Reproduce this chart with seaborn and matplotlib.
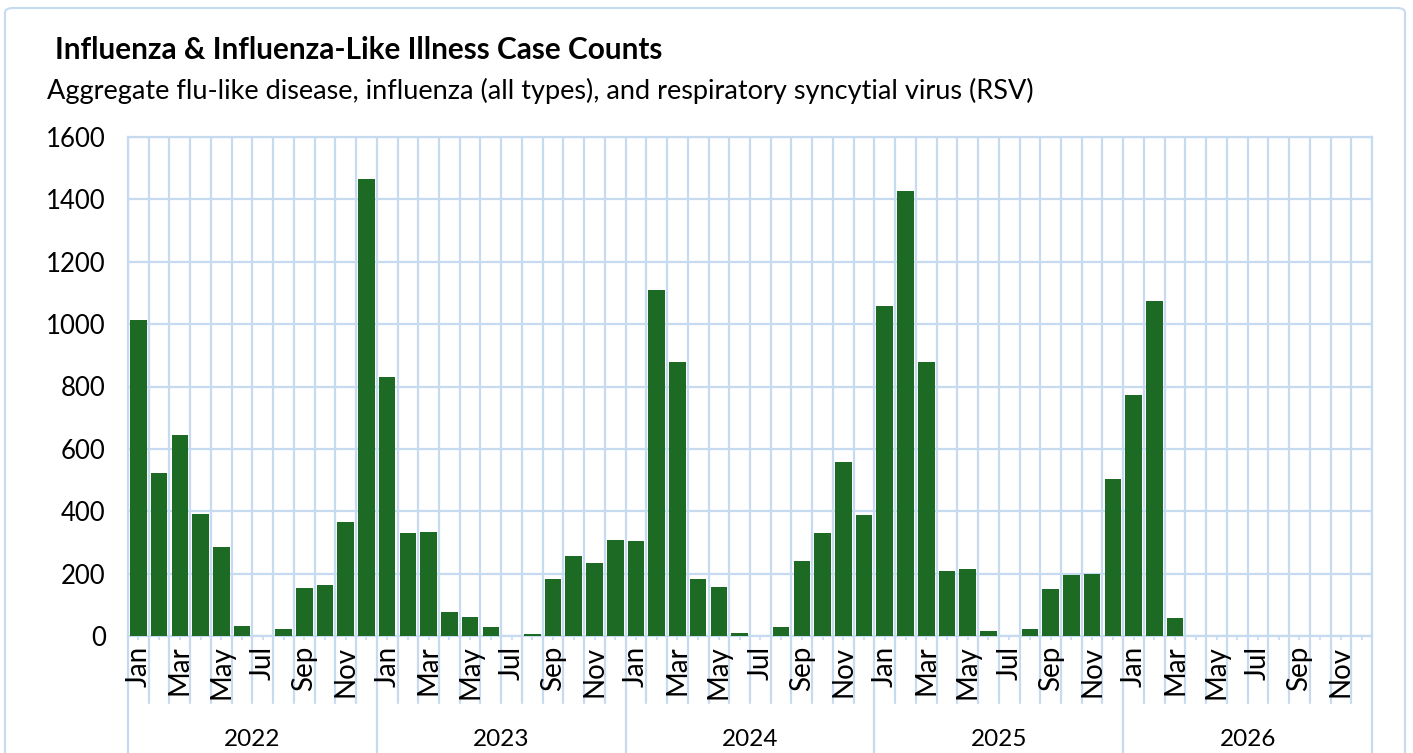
import numpy as np
import pandas as pd
import matplotlib
matplotlib.use("Agg")
import matplotlib.pyplot as plt
import matplotlib.transforms as mtransforms
from matplotlib.patches import FancyBboxPatch
import seaborn as sns

# ---------------- data ----------------
years = ["2022", "2023", "2024", "2025", "2026"]
months = ["Jan", "Feb", "Mar", "Apr", "May", "Jun",
          "Jul", "Aug", "Sep", "Oct", "Nov", "Dec"]
cases_2022 = [1012, 524, 646, 391, 284, 33, 0, 21, 154, 163, 367, 1465]
cases_2023 = [832, 329, 333, 76, 60, 30, 0, 5, 183, 258, 233, 308]
cases_2024 = [304, 1111, 878, 183, 158, 9, 0, 30, 242, 329, 557, 387]
cases_2025 = [1057, 1427, 878, 207, 216, 17, 0, 21, 150, 196, 200, 504]
cases_2026 = [774, 1073, 59, None, None, None, None, None, None, None, None, None]
title = "Influenza & Influenza-Like Illness Case Counts"
subtitle = "Aggregate flu-like disease, influenza (all types), and respiratory syncytial virus (RSV)"
yticks = [0, 200, 400, 600, 800, 1000, 1200, 1400, 1600]

all_cases = [cases_2022, cases_2023, cases_2024, cases_2025, cases_2026]
rows = []
for y, vals in zip(years, all_cases):
    for m, v in zip(months, vals):
        rows.append({"key": f"{y}-{m}", "year": y, "month": m, "cases": v})
df = pd.DataFrame(rows)
order = list(df["key"])
plot_df = df.dropna(subset=["cases"])

# ---------------- style ----------------
sns.set_theme(style="white")
FONT = ["Lato", "DejaVu Sans"]
plt.rcParams["font.family"] = FONT
GRID = "#C6DAF0"
GREEN = "#1C6A23"

W, H = 1413, 753
fig = plt.figure(figsize=(W / 100, H / 100), dpi=100)
fig.patch.set_facecolor("white")

# outer chart border
border = FancyBboxPatch((5 / W, -0.05), (1405 - 5) / W, 1.0 - 8 / H + 0.05,
                        boxstyle="round,pad=0,rounding_size=0.006",
                        transform=fig.transFigure, facecolor="none",
                        edgecolor=GRID, linewidth=1.5, clip_on=False)
fig.patches.append(border)

L, R, T, B = 128, 1372, 137, 636
ax = fig.add_axes([L / W, 1 - B / H, (R - L) / W, (B - T) / H])

sns.barplot(data=plot_df, x="key", y="cases", order=order, color=GREEN,
            width=0.8, saturation=1, linewidth=0, ax=ax, zorder=3)

n = len(order)
ax.set_xlim(-0.5, n - 0.5)
ax.set_ylim(0, 1600)
ax.set_yticks(yticks)
ax.set_yticklabels([str(t) for t in yticks], fontsize=18.5, color="black")
ax.tick_params(axis="y", length=0, pad=16)

ax.set_xticks(range(n))
ax.set_xticklabels([m if i % 2 == 0 else "" for y in years for i, m in enumerate(months)],
                   rotation=90, fontsize=20, color="black", va="top")
ax.tick_params(axis="x", length=3, width=1.2, color=GRID, pad=4, bottom=True)
ax.set_xlabel("")
ax.set_ylabel("")

# grid
ax.set_xticks(np.arange(-0.5, n, 1), minor=True)
ax.tick_params(axis="x", which="minor", length=0)
ax.grid(True, axis="y", which="major", color=GRID, linewidth=1.6, zorder=0)
ax.grid(True, axis="x", which="minor", color=GRID, linewidth=1.6, zorder=0)
ax.grid(False, axis="x", which="major")
ax.set_axisbelow(True)
for s in ax.spines.values():
    s.set_color(GRID)
    s.set_linewidth(1.6)

# category separator lines below axis
trans = mtransforms.blended_transform_factory(ax.transData, ax.transAxes)
axis_h = B - T
month_end = -(703 - B) / axis_h
year_end = -(H + 5 - B) / axis_h
for k in range(n + 1):
    xb = k - 0.5
    yend = year_end if k % 12 == 0 else month_end
    ax.plot([xb, xb], [0, yend], transform=trans, color=GRID,
            linewidth=1.6, clip_on=False, zorder=0)

# year labels
for i, y in enumerate(years):
    ax.text(i * 12 + 5.5, -(740 - B) / axis_h, y, transform=trans,
            ha="center", va="center", fontsize=17.5, color="black")

# titles
fig.text(55 / W, 1 - 50 / H, title, fontsize=21.4, fontweight="bold",
         ha="left", va="center", color="black")
fig.text(47 / W, 1 - 91 / H, subtitle, fontsize=19.5, ha="left", va="center",
         color="black")

fig.savefig("out.png", dpi=100, facecolor="white")
